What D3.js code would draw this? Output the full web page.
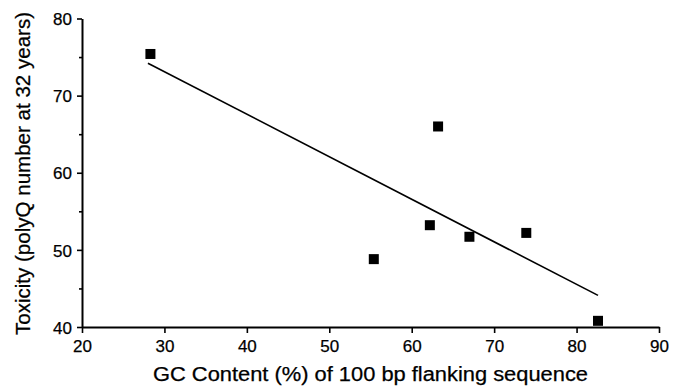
<!DOCTYPE html>
<html><head><meta charset="utf-8">
<script src="https://cdn.jsdelivr.net/npm/d3@7"></script>
<style>body{margin:0;background:#fff}svg{display:block}text{font-family:"Liberation Sans",Arial,sans-serif;fill:#000;stroke:#000;stroke-width:0.25px}</style>
</head><body>
<svg id="c" width="675" height="392"></svg>
<script>
const gcContent = [28.3, 63.2, 55.4, 62.2, 67.0, 73.9, 82.6];
const toxicity = [75.4, 66.0, 48.8, 53.2, 51.7, 52.2, 40.8];
const fitX = [28.0, 82.6];
const fitY = [74.2, 44.1];
const xTicks = [20, 30, 40, 50, 60, 70, 80, 90];
const yTicks = [40, 50, 60, 70, 80];
const yMinor = [45, 55, 65, 75];

const svg = d3.select("#c");
const x = d3.scaleLinear().domain([20, 90]).range([82, 659]);
const y = d3.scaleLinear().domain([40, 80]).range([327, 18.5]);

const xa = svg.append("g").attr("transform", `translate(0,${y(40)})`)
  .call(d3.axisBottom(x).tickValues(xTicks).tickSize(6).tickSizeOuter(0).tickPadding(7));
const ya = svg.append("g").attr("transform", `translate(${x(20)},0)`)
  .call(d3.axisLeft(y).tickValues(yTicks).tickSize(5).tickSizeOuter(0).tickPadding(5));
svg.append("g").attr("transform", `translate(${x(20)},0)`)
  .call(d3.axisLeft(y).tickValues(yMinor).tickSize(3).tickFormat(""))
  .select(".domain").remove();
svg.selectAll(".domain").attr("stroke-width", 2);
svg.selectAll(".tick line").attr("stroke-width", 1.6);
xa.selectAll("text").attr("font-size", 17);
ya.selectAll("text").attr("font-size", 17).attr("dy", "0.36em");

svg.append("line")
  .attr("x1", x(fitX[0])).attr("y1", y(fitY[0]))
  .attr("x2", x(fitX[1])).attr("y2", y(fitY[1]))
  .attr("stroke", "#000").attr("stroke-width", 1.6);

const s = 10;
svg.append("g").selectAll("rect").data(gcContent).join("rect")
  .attr("x", (d) => x(d) - s/2)
  .attr("y", (d, i) => y(toxicity[i]) - s/2)
  .attr("width", s).attr("height", s).attr("fill", "#000");

svg.append("text").attr("x", 153).attr("y", 381)
  .attr("font-size", 19.5).attr("textLength", 435).attr("lengthAdjust", "spacingAndGlyphs")
  .text("GC Content (%) of 100 bp flanking sequence");
svg.append("text").attr("transform", `translate(29.5,335) rotate(-90)`)
  .attr("font-size", 19.5).attr("textLength", 323).attr("lengthAdjust", "spacingAndGlyphs")
  .text("Toxicity (polyQ number at 32 years)");
</script>
</body></html>
